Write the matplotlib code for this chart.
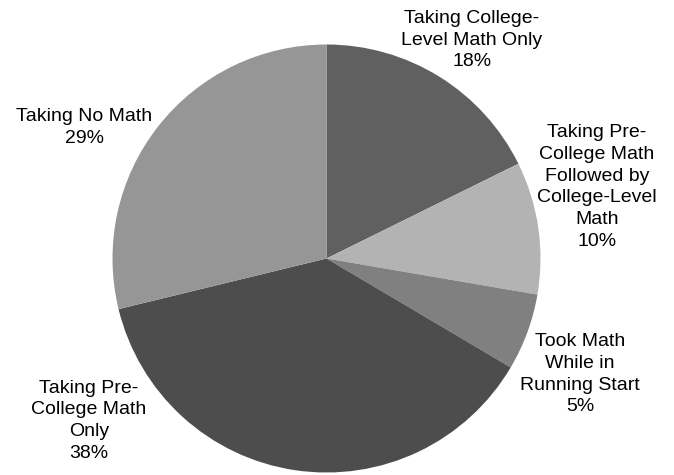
import matplotlib.pyplot as plt

# Slice data (clockwise from 12 o'clock)
categories = [
    'Taking College-\nLevel Math Only',
    'Taking Pre-\nCollege Math\nFollowed by\nCollege-Level\nMath',
    'Took Math\nWhile in\nRunning Start',
    'Taking Pre-\nCollege Math\nOnly',
    'Taking No Math',
]
shares = [17.7, 10.0, 5.8, 37.7, 28.8]
pct_labels = ['18%', '10%', '5%', '38%', '29%']
colors = ['#606060', '#b3b3b3', '#808080', '#4d4d4d', '#969696']

# label centres (pie radius = 1)
label_pos = [(0.680, 1.021), (1.264, 0.334), (1.185, -0.540),
             (-1.110, -0.759), (-1.133, 0.610)]

W, H = 674, 475
cx, cy, r = 326.5, 258.5, 214.0

fig = plt.figure(figsize=(W / 100, H / 100), dpi=100)
ax = fig.add_axes([0, 0, 1, 1])
ax.pie(shares, colors=colors, startangle=90, counterclock=False,
       wedgeprops=dict(linewidth=0))
ax.set_xlim(-cx / r, (W - cx) / r)
ax.set_ylim(-(H - cy) / r, cy / r)
ax.set_aspect('equal')
ax.axis('off')

for cat, pct, (x, y) in zip(categories, pct_labels, label_pos):
    ax.text(x, y, cat + '\n' + pct, ha='center', va='center',
            fontsize=14, family='Liberation Sans', linespacing=1.38,
            color='black')

fig.savefig('out.png', dpi=100)
